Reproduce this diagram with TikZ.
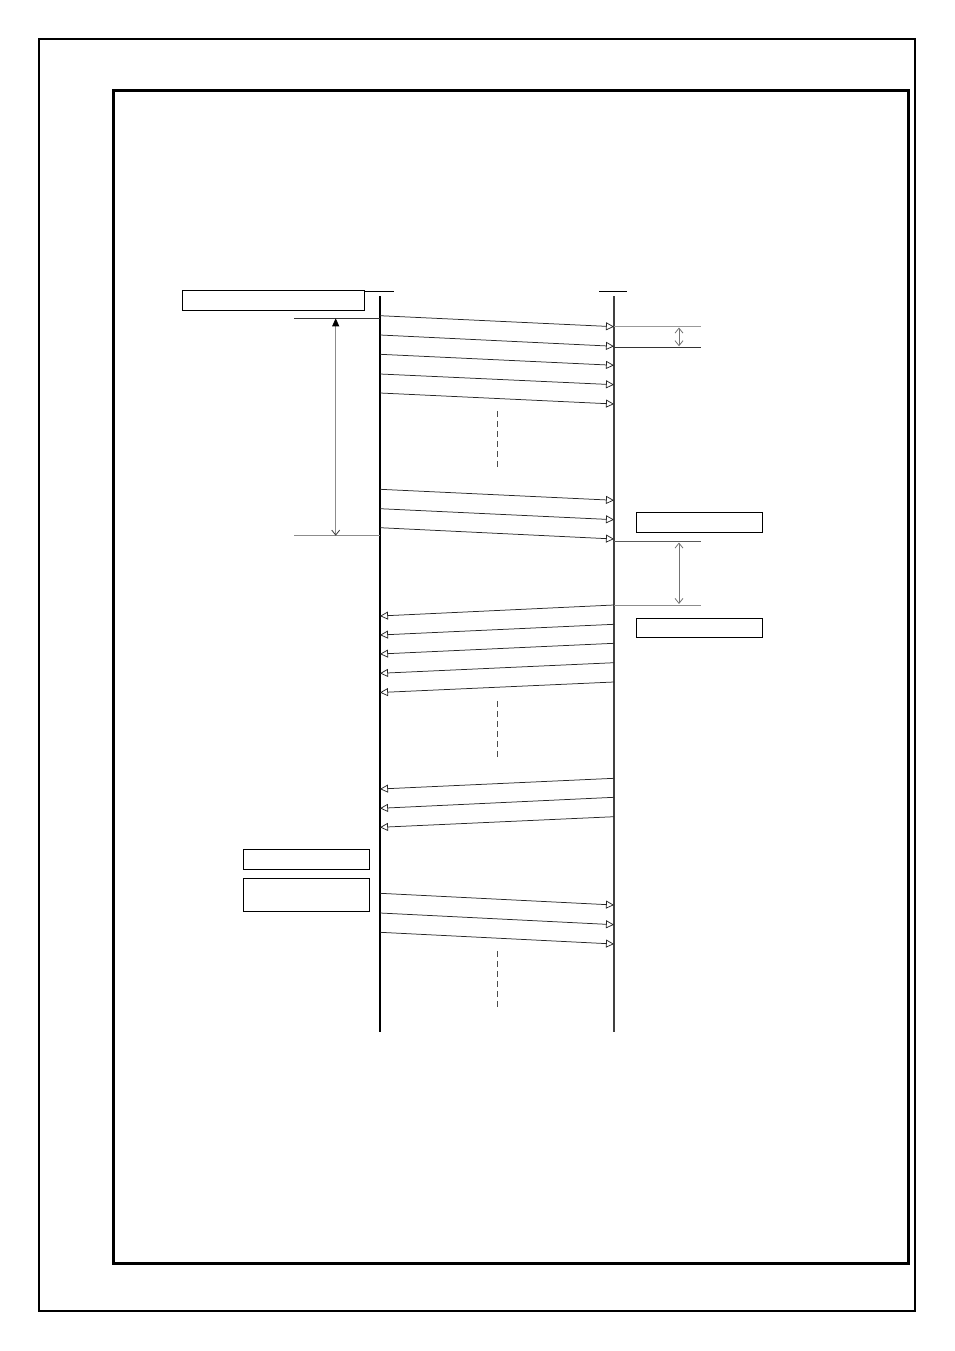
\documentclass[tikz,border=0pt]{standalone}
\usetikzlibrary{arrows.meta}
\begin{document}
\begin{tikzpicture}[x=1pt,y=-1pt,
  msg/.style={line width=0.75pt,draw=black!85,-{Triangle[open,fill=white,length=8pt,width=8pt]}},
  markline/.style={line width=0.8pt,draw=black!65},
  span/.style={line width=0.8pt,draw=black!55,{Straight Barb[length=5pt,width=8pt]}-{Straight Barb[length=5pt,width=8pt]}},
  blankbox/.style={draw=black,line width=1pt,inner sep=0pt,fill=white},
  dashv/.style={line width=0.6pt,draw=black!70,dash pattern=on 6pt off 4pt},
  life/.style={line width=1.1pt},
]
\useasboundingbox (0,0) rectangle (954,1351);
% frames
\draw[line width=1.8pt] (39.2,39.2) rectangle (915,1310.8);
\draw[line width=3pt] (113.5,90.5) rectangle (908.5,1263.5);

% lifelines
\coordinate (LT) at (380,296); \coordinate (LB) at (380,1032);
\coordinate (RT) at (614,296); \coordinate (RB) at (614,1032);
\draw[life,black] (LT) -- (LB);
\draw[line width=2pt,black!75] (RT) -- (RB);
\coordinate (LH1) at (361,291); \coordinate (LH2) at (394,291);
\coordinate (RH1) at (599,291); \coordinate (RH2) at (627,291);
\draw[line width=0.9pt] (LH1) -- (LH2);
\draw[line width=0.9pt] (RH1) -- (RH2);

% boxes
\node[blankbox,minimum width=182pt,minimum height=20pt] (b1) at (273.5,300.3) {};
\node[blankbox,minimum width=126pt,minimum height=20pt] (b2) at (699.3,522.3) {};
\node[blankbox,minimum width=126pt,minimum height=19pt] (b3) at (699.3,627.7) {};
\node[blankbox,minimum width=126pt,minimum height=20pt] (b4) at (306.3,859.3) {};
\node[blankbox,minimum width=126pt,minimum height=33pt] (b5) at (306.3,894.7) {};

% left period marker
\coordinate (pA1) at (294,318.3); \coordinate (pA2) at (380,318.3);
\coordinate (pB1) at (294,535.7); \coordinate (pB2) at (380,535.7);
\draw[markline,black!80] (pA1) -- (pA2);
\draw[markline,black!45] (pB1) -- (pB2);
\coordinate (vA) at (335.7,318.3); \coordinate (vB) at (335.7,535.7);
\draw[line width=0.8pt,draw=black!45,{Triangle[length=8pt,width=7pt,fill=black,color=black]}-{Straight Barb[length=5pt,width=8pt,color=black!75]}] (vA) -- (vB);

% right markers
\coordinate (m1a) at (614,326.7); \coordinate (m1b) at (700.7,326.7);
\coordinate (m2a) at (614,347); \coordinate (m2b) at (700.7,347);
\coordinate (m3a) at (614,541.3); \coordinate (m3b) at (700.7,541.3);
\coordinate (m4a) at (614,605); \coordinate (m4b) at (700.7,605);
\draw[markline,black!40] (m1a) -- (m1b);
\draw[markline,black!80] (m2a) -- (m2b);
\draw[markline] (m3a) -- (m3b);
\draw[markline,black!45] (m4a) -- (m4b);
\coordinate (d1a) at (679,327.5); \coordinate (d1b) at (679,346.3);
\coordinate (d2a) at (679,542.5); \coordinate (d2b) at (679,604);
\draw[span] (d1a) -- (d1b);
\draw[span] (d2a) -- (d2b);

% right-going messages
\foreach \s/\e [count=\i] in {315.7/326.7,335/346.3,354.3/365.3,374/384.7,393/404,
                              489.3/500.3,508.7/519.7,527.7/539,
                              893.3/905,913/924.7,932.3/944}{
  \coordinate (ms\i) at (380,\s);
  \coordinate (me\i) at (614,\e);
  \draw[msg] (ms\i) -- (me\i);
}
% left-going messages
\foreach \s/\e [count=\i] in {605/616,624.3/635,643.3/654,662.7/673.3,682/692.5,
                              778.3/789,797.3/808.3,816.7/827.3}{
  \coordinate (rs\i) at (614,\s);
  \coordinate (re\i) at (380,\e);
  \draw[msg] (rs\i) -- (re\i);
}

% continuation dashes
\coordinate (c1a) at (497.3,411); \coordinate (c1b) at (497.3,470);
\coordinate (c2a) at (497.3,701); \coordinate (c2b) at (497.3,759);
\coordinate (c3a) at (497.3,951); \coordinate (c3b) at (497.3,1010);
\draw[dashv] (c1a) -- (c1b);
\draw[dashv] (c2a) -- (c2b);
\draw[dashv] (c3a) -- (c3b);
\end{tikzpicture}
\end{document}
